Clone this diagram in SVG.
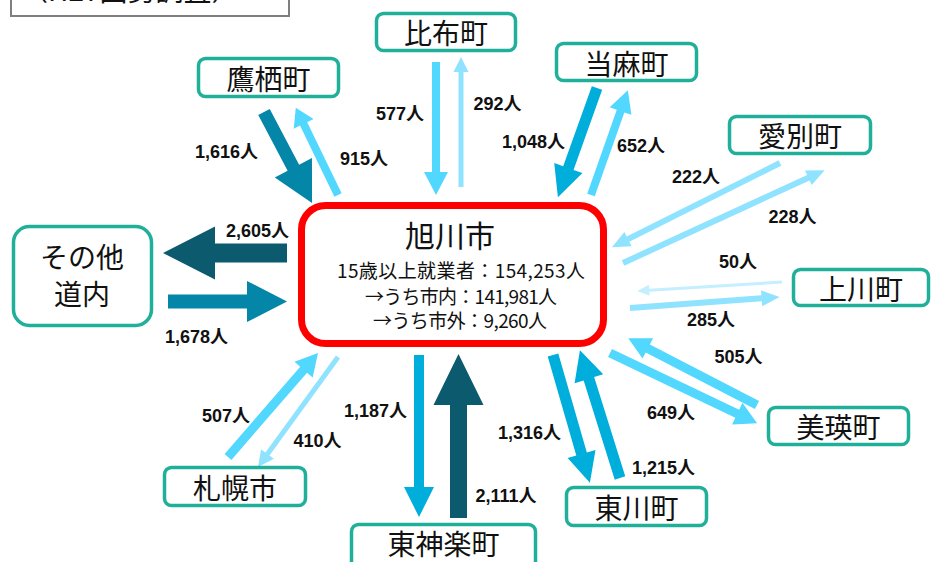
<svg xmlns="http://www.w3.org/2000/svg" width="932" height="562" viewBox="0 0 932 562">
<defs>
<style>
.node rect{fill:#fff;stroke:#20B09A;stroke-width:3.5}
.nt{font-family:"Noto Sans CJK JP","Noto Sans",sans-serif;font-size:28px;fill:#111;text-anchor:middle;dominant-baseline:central}
.lbl{font-family:"Liberation Sans","Noto Sans CJK JP",sans-serif;font-size:18px;font-weight:bold;fill:#111;text-anchor:middle}
.ct{font-family:"Noto Sans CJK JP","Noto Sans",sans-serif;fill:#111;text-anchor:middle;dominant-baseline:central}
.dark{fill:#0B5A6E}.med{fill:#0386A8}.bright{fill:#00AEDC}.light{fill:#52D7FF}.lighter{fill:#8FE3FF}.lightest{fill:#C4EFFF}
</style>
</defs>
<rect width="932" height="562" fill="#fff"/>

<g id="source-note">
<rect x="11" y="-20" width="278" height="36" fill="#fff" stroke="#7F7F7F" stroke-width="2"/>
<text x="20" y="1" font-family="Noto Sans CJK JP, sans-serif" font-size="28" fill="#111">（H27国勢調査）</text>
</g>

<g id="connectors">
<polygon class="light" transform="translate(436,62) rotate(90)" points="0,-4 110,-4 110,-12 133,0 110,12 110,4 0,4"/>
<polygon class="lighter" transform="translate(461,187) rotate(-90)" points="0,-2.5 115,-2.5 115,-7.5 130,0 115,7.5 115,2.5 0,2.5"/>
<polygon class="med" transform="translate(264,112) rotate(62.2)" points="0,-6.5 63,-6.5 63,-21 103,0 63,21 63,6.5 0,6.5"/>
<polygon class="light" transform="translate(338,195) rotate(-115.8)" points="0,-4 79,-4 79,-11 97,0 79,11 79,4 0,4"/>
<polygon class="bright" transform="translate(597,88) rotate(109.7)" points="0,-5.5 85,-5.5 85,-15 116,0 85,15 85,5.5 0,5.5"/>
<polygon class="light" transform="translate(591,195) rotate(-70.6)" points="0,-4 89,-4 89,-11.5 111,0 89,11.5 89,4 0,4"/>
<polygon class="lighter" transform="translate(780,163) rotate(153.4)" points="0,-3 170,-3 170,-8 188,0 170,8 170,3 0,3"/>
<polygon class="lighter" transform="translate(623,263) rotate(-24.7)" points="0,-3 204,-3 204,-8 222,0 204,8 204,3 0,3"/>
<polygon class="lightest" transform="translate(782,282) rotate(176.4)" points="0,-1.5 133,-1.5 133,-5.5 145,0 133,5.5 133,1.5 0,1.5"/>
<polygon class="lighter" transform="translate(630,308) rotate(-4.2)" points="0,-3 132,-3 132,-8 150,0 132,8 132,3 0,3"/>
<polygon class="light" transform="translate(757,405) rotate(-152.6)" points="0,-4.5 123,-4.5 123,-11.5 145,0 123,11.5 123,4.5 0,4.5"/>
<polygon class="light" transform="translate(610,353) rotate(25.5)" points="0,-4.5 141,-4.5 141,-12 163,0 141,12 141,4.5 0,4.5"/>
<polygon class="bright" transform="translate(553,355) rotate(73.9)" points="0,-5.5 103,-5.5 103,-14.5 133,0 103,14.5 103,5.5 0,5.5"/>
<polygon class="bright" transform="translate(620,478) rotate(-107.4)" points="0,-5.5 104,-5.5 104,-15 134,0 104,15 104,5.5 0,5.5"/>
<polygon class="bright" transform="translate(419,355) rotate(90)" points="0,-5 132,-5 132,-15 162,0 132,15 132,5 0,5"/>
<polygon class="dark" transform="translate(458.5,518) rotate(-90)" points="0,-8.5 113,-8.5 113,-25 164,0 113,25 113,8.5 0,8.5"/>
<polygon class="dark" transform="translate(287,253) rotate(180)" points="0,-9.5 72,-9.5 72,-26.5 124,0 72,26.5 72,9.5 0,9.5"/>
<polygon class="med" transform="translate(168,301.5)" points="0,-7 79,-7 79,-20.5 119,0 79,20.5 79,7 0,7"/>
<polygon class="light" transform="translate(228,457) rotate(-49.1)" points="0,-4.5 115.5,-4.5 115.5,-12 137.5,0 115.5,12 115.5,4.5 0,4.5"/>
<polygon class="lighter" transform="translate(338,357) rotate(126)" points="0,-2.5 120,-2.5 120,-8 136,0 120,8 120,2.5 0,2.5"/>

<text class="lbl" x="226.5" y="158">1,616人</text>
<text class="lbl" x="364" y="165">915人</text>
<text class="lbl" x="400" y="120">577人</text>
<text class="lbl" x="497.5" y="110">292人</text>
<text class="lbl" x="533.5" y="148">1,048人</text>
<text class="lbl" x="641" y="152">652人</text>
<text class="lbl" x="696" y="183">222人</text>
<text class="lbl" x="792.5" y="223">228人</text>
<text class="lbl" x="738" y="268">50人</text>
<text class="lbl" x="711" y="326">285人</text>
<text class="lbl" x="738.5" y="363">505人</text>
<text class="lbl" x="671" y="419">649人</text>
<text class="lbl" x="529.5" y="439">1,316人</text>
<text class="lbl" x="663.5" y="474">1,215人</text>
<text class="lbl" x="506" y="502">2,111人</text>
<text class="lbl" x="375.5" y="417">1,187人</text>
<text class="lbl" x="226" y="422">507人</text>
<text class="lbl" x="317.5" y="447">410人</text>
<text class="lbl" x="257.5" y="237">2,605人</text>
<text class="lbl" x="196.5" y="343">1,678人</text>
</g>

<g id="asahikawa">
<rect x="301.5" y="205.5" width="302" height="138" rx="24" fill="#fff" stroke="#FF0000" stroke-width="7"/>
<text class="ct" x="450" y="233.5" font-size="30">旭川市</text>
<text class="ct" x="461" y="269.5" font-size="19" textLength="248">15歳以上就業者：154,253人</text>
<text class="ct" x="461" y="295" font-size="19" textLength="192">→うち市内：141,981人</text>
<text class="ct" x="460" y="319.5" font-size="19" textLength="174">→うち市外：9,260人</text>
</g>

<g id="pippu" class="node"><rect x="376.5" y="13.5" width="139" height="37" rx="7"/><text class="nt" x="446" y="32">比布町</text></g>
<g id="takasu" class="node"><rect x="198.5" y="58.5" width="140" height="38" rx="7"/><text class="nt" x="268.5" y="77.5">鷹栖町</text></g>
<g id="toma" class="node"><rect x="556.5" y="43.5" width="140" height="37" rx="7"/><text class="nt" x="626.5" y="62.5">当麻町</text></g>
<g id="aibetsu" class="node"><rect x="729.5" y="116.5" width="141" height="37" rx="7"/><text class="nt" x="800" y="135">愛別町</text></g>
<g id="kamikawa" class="node"><rect x="793.5" y="269.5" width="135" height="36" rx="7"/><text class="nt" x="861" y="287.5">上川町</text></g>
<g id="biei" class="node"><rect x="768.5" y="407.5" width="140" height="37" rx="7"/><text class="nt" x="838.5" y="426">美瑛町</text></g>
<g id="higashikawa" class="node"><rect x="566.5" y="487.5" width="140" height="38" rx="7"/><text class="nt" x="636.5" y="507">東川町</text></g>
<g id="higashikagura" class="node"><rect x="351.5" y="524.5" width="184" height="45" rx="7"/><text class="nt" x="443.5" y="542.5">東神楽町</text></g>
<g id="sapporo" class="node"><rect x="164.5" y="467.5" width="141" height="38" rx="7"/><text class="nt" x="235" y="487">札幌市</text></g>
<g id="other-hokkaido" class="node"><rect x="13.5" y="226.5" width="138" height="99" rx="16"/><text class="nt" x="82" y="256" font-size="30">その他</text><text class="nt" x="82" y="292.5" font-size="30">道内</text></g>
</svg>
